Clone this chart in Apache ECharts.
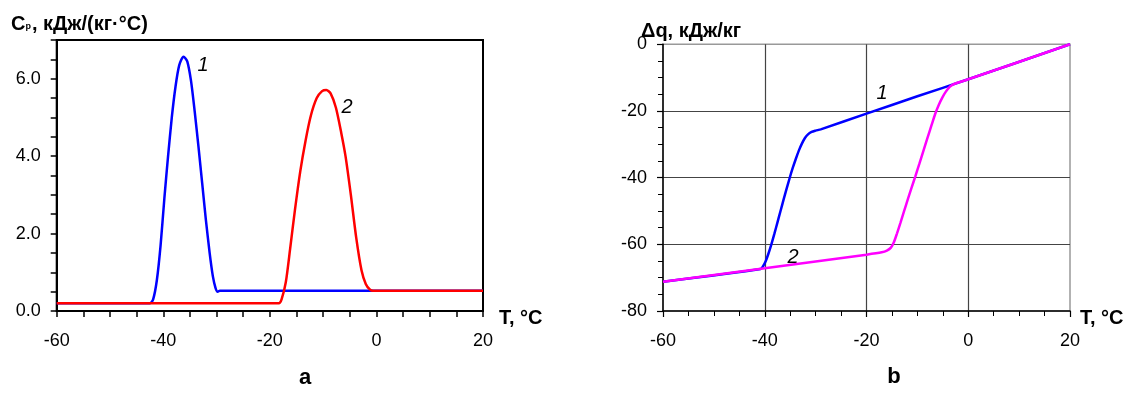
<!DOCTYPE html>
<html>
<head>
<meta charset="utf-8">
<script src="https://cdn.jsdelivr.net/npm/echarts@6/dist/echarts.min.js"></script>
<style>
html,body{margin:0;padding:0;background:#fff;}
#chart{width:1130px;height:394px;}
</style>
</head>
<body>
<div id="chart"></div>
<script>
// ---- Chart a: specific heat Cp vs T ----
const tempCp1 = [-60, -42.5, -41.9, -41.2, -40.5, -39.8, -39.1, -38.4, -37.7, -37.0, -36.2, -35.5, -34.8, -34.1, -33.4, -32.7, -32.0, -31.3, -30.7, -30.2, -29.8, -29.4, 20];
const cp1     = [0.2, 0.2, 0.3, 0.8, 1.7, 2.9, 4.0, 5.0, 5.8, 6.35, 6.57, 6.45, 5.95, 5.15, 4.25, 3.3, 2.35, 1.5, 0.9, 0.6, 0.5, 0.52, 0.52];
const tempCp2 = [-60, -18.3, -17.8, -17.0, -16.2, -15.3, -14.3, -13.3, -12.3, -11.2, -10.2, -9.4, -8.6, -7.6, -6.6, -5.8, -4.8, -3.8, -2.8, -2.0, -1.2, -0.6, 20];
const cp2     = [0.2, 0.2, 0.3, 0.75, 1.6, 2.6, 3.6, 4.4, 5.05, 5.5, 5.68, 5.71, 5.62, 5.25, 4.6, 4.0, 3.0, 1.9, 1.05, 0.7, 0.55, 0.52, 0.52];

// ---- Chart b: enthalpy difference dq vs T ----
const tempDq1 = [-60, -40.8, -40.3, -39.8, -39.3, -38.7, -38.1, -37.5, -36.9, -36.3, -35.7, -35.1, -34.5, -33.9, -33.3, -32.7, -32.1, -31.5, -30.8, -30.0, -29.0, -20, -10, 0, 20];
const dq1     = [-71.2, -67.4, -66.5, -65.0, -62.9, -60.0, -56.8, -53.4, -50.0, -46.6, -43.3, -40.1, -37.1, -34.4, -31.9, -29.8, -28.1, -27.0, -26.3, -25.9, -25.5, -20.8, -15.6, -10.5, 0];
const tempDq2 = [-60, -40, -20, -17.0, -16.0, -15.2, -14.6, -14.0, -13.3, -12.6, -11.9, -11.2, -10.4, -9.6, -8.8, -8.0, -7.2, -6.5, -5.8, -5.1, -4.4, -3.6, -2.8, 0, 20];
const dq2     = [-71.2, -67.2, -63.1, -62.4, -61.9, -61.0, -59.3, -56.7, -53.4, -50.0, -46.6, -43.3, -39.6, -35.8, -31.9, -28.0, -24.2, -20.9, -18.2, -16.0, -14.2, -12.7, -11.9, -10.5, 0];

const xTicksMajor = [-60, -40, -20, 0, 20];
const cpLabels = [0, 2, 4, 6];

const FONT = '"Liberation Sans", Arial, Helvetica, sans-serif';
const pairs = (xs, ys) => xs.map((x, i) => [x, ys[i]]);

const chart = echarts.init(document.getElementById('chart'), null, {renderer: 'canvas'});

const axisLabelBase = {color: '#000', fontSize: 18, fontFamily: FONT};

const option = {
  animation: false,
  backgroundColor: '#fff',
  grid: [
    {left: 56.7, right: 1130 - 483, top: 40, bottom: 394 - 311, show: true, borderColor: '#000', borderWidth: 2},
    {left: 663, right: 1130 - 1070, top: 44.3, bottom: 394 - 311, show: true, borderColor: '#999', borderWidth: 1.5}
  ],
  xAxis: [
    {
      type: 'value', gridIndex: 0, min: -60, max: 20, interval: 5,
      axisLine: {show: true, onZero: false, lineStyle: {color: '#000', width: 2}},
      axisTick: {show: true, length: 6, lineStyle: {color: '#000', width: 1.5}},
      axisLabel: Object.assign({}, axisLabelBase, {margin: 21, formatter: v => xTicksMajor.includes(v) ? String(v) : ''}),
      splitLine: {show: false}
    },
    {
      type: 'value', gridIndex: 1, min: -60, max: 20, interval: 20,
      axisLine: {show: true, onZero: false, lineStyle: {color: '#000', width: 1.5}},
      axisTick: {show: true, length: 6, lineStyle: {color: '#000', width: 1.2}},
      minorTick: {show: true, splitNumber: 4, length: 5, lineStyle: {color: '#000', width: 1}},
      axisLabel: Object.assign({}, axisLabelBase, {margin: 21}),
      splitLine: {show: true, showMinLine: false, showMaxLine: false, lineStyle: {color: '#444', width: 1.2}}
    }
  ],
  yAxis: [
    {
      type: 'value', gridIndex: 0, min: 0, max: 7, interval: 0.5,
      axisLine: {show: true, onZero: false, lineStyle: {color: '#000', width: 2}},
      axisTick: {show: true, length: 6, lineStyle: {color: '#000', width: 1.5}},
      axisLabel: Object.assign({}, axisLabelBase, {margin: 16, formatter: v => cpLabels.includes(v) ? v.toFixed(1) : ''}),
      splitLine: {show: false}
    },
    {
      type: 'value', gridIndex: 1, min: -80, max: 0, interval: 20,
      axisLine: {show: true, onZero: false, lineStyle: {color: '#000', width: 1.5}},
      axisTick: {show: true, length: 6, lineStyle: {color: '#000', width: 1.2}},
      minorTick: {show: true, splitNumber: 4, length: 5, lineStyle: {color: '#000', width: 1}},
      axisLabel: Object.assign({}, axisLabelBase, {margin: 16}),
      splitLine: {show: true, showMinLine: false, showMaxLine: false, lineStyle: {color: '#444', width: 1.2}}
    }
  ],
  series: [
    {type: 'line', xAxisIndex: 0, yAxisIndex: 0, data: pairs(tempCp1, cp1), showSymbol: false, symbol: 'none', smooth: 0.25, lineStyle: {color: '#0000ff', width: 2.5}, z: 2},
    {type: 'line', xAxisIndex: 0, yAxisIndex: 0, data: pairs(tempCp2, cp2), showSymbol: false, symbol: 'none', smooth: 0.25, lineStyle: {color: '#ff0000', width: 2.5}, z: 3},
    {type: 'line', xAxisIndex: 1, yAxisIndex: 1, data: pairs(tempDq1, dq1), showSymbol: false, symbol: 'none', smooth: 0.25, lineStyle: {color: '#0000ff', width: 2.5}, z: 2},
    {type: 'line', xAxisIndex: 1, yAxisIndex: 1, data: pairs(tempDq2, dq2), showSymbol: false, symbol: 'none', smooth: 0.25, lineStyle: {color: '#ff00ff', width: 2.5}, z: 3}
  ],
  graphic: [
    {type: 'text', x: 11, y: 24, style: {
      text: '{b|C}{s|p}{b|, кДж/(кг·°С)}',
      textVerticalAlign: 'middle', textAlign: 'left',
      rich: {
        b: {fontFamily: FONT, fontWeight: 'bold', fontSize: 20, fill: '#000', color: '#000'},
        s: {fontFamily: FONT, fontWeight: 'bold', fontSize: 9, fill: '#000', color: '#000', padding: [6, 1, 0, 0]}
      }
    }},
    {type: 'text', x: 641, y: 31, style: {text: 'Δq, кДж/кг', font: 'bold 20px ' + FONT, fill: '#000', textAlign: 'left', textVerticalAlign: 'middle'}},
    {type: 'text', x: 499, y: 318, style: {text: 'T, °C', font: 'bold 20px ' + FONT, fill: '#000', textAlign: 'left', textVerticalAlign: 'middle'}},
    {type: 'text', x: 1080, y: 318, style: {text: 'T, °C', font: 'bold 20px ' + FONT, fill: '#000', textAlign: 'left', textVerticalAlign: 'middle'}},
    {type: 'text', x: 203, y: 65, style: {text: '1', font: 'italic 20px ' + FONT, fill: '#000', textAlign: 'center', textVerticalAlign: 'middle'}},
    {type: 'text', x: 347, y: 107, style: {text: '2', font: 'italic 20px ' + FONT, fill: '#000', textAlign: 'center', textVerticalAlign: 'middle'}},
    {type: 'text', x: 882, y: 93, style: {text: '1', font: 'italic 20px ' + FONT, fill: '#000', textAlign: 'center', textVerticalAlign: 'middle'}},
    {type: 'text', x: 793, y: 257, style: {text: '2', font: 'italic 20px ' + FONT, fill: '#000', textAlign: 'center', textVerticalAlign: 'middle'}},
    {type: 'text', x: 305, y: 378, style: {text: 'a', font: 'bold 22px ' + FONT, fill: '#000', textAlign: 'center', textVerticalAlign: 'middle'}},
    {type: 'text', x: 894, y: 377, style: {text: 'b', font: 'bold 22px ' + FONT, fill: '#000', textAlign: 'center', textVerticalAlign: 'middle'}}
  ]
};
chart.setOption(option);
</script>
</body>
</html>
